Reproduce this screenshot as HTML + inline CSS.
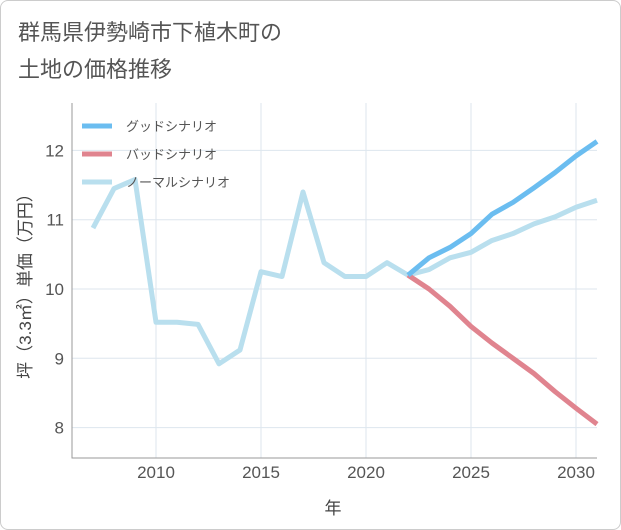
<!DOCTYPE html>
<html><head><meta charset="utf-8"><style>
body{margin:0;background:#fff;font-family:"Liberation Sans","Noto Sans CJK JP",sans-serif}
#card{position:absolute;left:0;top:0;width:619px;height:528px;border:1px solid #ccc;border-radius:8px;background:#fff}
</style></head><body>
<div id="card">
<svg id="chart" width="621" height="530" style="position:absolute;left:-1px;top:-1px">
<text x="18" y="40" font-size="22" fill="#555">群馬県伊勢崎市下植木町の</text>
<text x="18" y="77" font-size="22" fill="#555">土地の価格推移</text>
<g id="grid"></g><g id="lines"></g><g id="legend"></g>
<text x="333" y="514" font-size="17" fill="#444" text-anchor="middle">年</text>
<text transform="translate(31,282) rotate(-90)" font-size="17" fill="#444" text-anchor="middle">坪（3.3㎡）単価（万円）</text>
</svg></div>
<script>
const years=[2007,2008,2009,2010,2011,2012,2013,2014,2015,2016,2017,2018,2019,2020,2021,2022];
const normalPast=[10.88,11.45,11.58,9.52,9.52,9.49,8.92,9.12,10.25,10.18,11.4,10.38,10.18,10.18,10.38,10.2];
const futureYears=[2022,2023,2024,2025,2026,2027,2028,2029,2030,2031];
const good=[10.2,10.45,10.6,10.8,11.08,11.25,11.46,11.68,11.92,12.13];
const bad=[10.2,10.0,9.75,9.46,9.22,9.0,8.78,8.52,8.28,8.05];
const normalFuture=[10.2,10.28,10.45,10.53,10.7,10.8,10.94,11.04,11.18,11.28];
const xTicks=[2010,2015,2020,2025,2030];
const yTicks=[8,9,10,11,12];
const X=y=>72+(y-2006)*21, Y=v=>289-(v-10)*69.3;
const ns="http://www.w3.org/2000/svg";
function mk(t,a,p){const e=document.createElementNS(ns,t);for(const k in a)e.setAttribute(k,a[k]);p.appendChild(e);return e;}
const g=document.getElementById('grid');
for(const t of xTicks){const l=mk('line',{x1:X(t),x2:X(t),y1:103,y2:458,stroke:'#dde6ee'},g);

const tx=mk('text',{x:X(t),y:478,'font-size':17,fill:'#555','text-anchor':'middle'},g);tx.textContent=t;
}
for(const t of yTicks){const l=mk('line',{x1:72,x2:597,y1:Y(t),y2:Y(t),stroke:'#dde6ee'},g);

const tx=mk('text',{x:64,y:Y(t)+6,'font-size':17,fill:'#555','text-anchor':'end'},g);tx.textContent=t;
}
const ax=mk('path',{d:'M72 103V458H597',fill:'none',stroke:'#999'},g);

const L=document.getElementById('lines');
function line(xs,vs,c,n){const p=mk('polyline',{points:xs.map((x,i)=>X(x)+','+Y(vs[i])).join(' '),fill:'none',stroke:c,'stroke-width':5,'stroke-linejoin':'round'},L);
}
line(years,normalPast,'#b9dfee','normal-past-line');
line(futureYears,normalFuture,'#b9dfee','normal-scenario-line');
line(futureYears,bad,'#e0848f','bad-scenario-line');
line(futureYears,good,'#6bbdf0','good-scenario-line');
const lg=document.getElementById('legend');
[['グッドシナリオ','#6bbdf0'],['バッドシナリオ','#e0848f'],['ノーマルシナリオ','#b9dfee']].forEach((d,i)=>{
const y=126+i*28;
const r=mk('line',{x1:82,x2:112,y1:y,y2:y,stroke:d[1],'stroke-width':5},lg);

const t=mk('text',{x:126,y:y+5,'font-size':13,fill:'#555'},lg);t.textContent=d[0];
});
</script></body></html>
